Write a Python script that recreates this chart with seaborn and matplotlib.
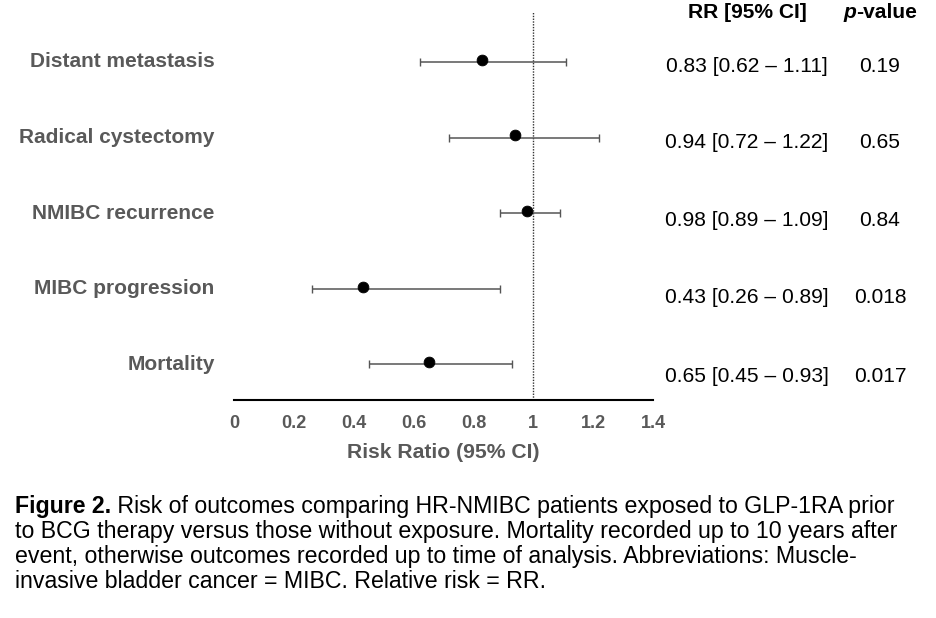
import matplotlib
matplotlib.use("Agg")
import matplotlib.pyplot as plt
import seaborn as sns
import pandas as pd

# === Data ===
outcomes = ["Distant metastasis", "Radical cystectomy", "NMIBC recurrence",
            "MIBC progression", "Mortality"]
rr = [0.83, 0.94, 0.98, 0.43, 0.65]
ci_low = [0.62, 0.72, 0.89, 0.26, 0.45]
ci_high = [1.11, 1.22, 1.09, 0.89, 0.93]
p_values = ["0.19", "0.65", "0.84", "0.018", "0.017"]
x_ticks = [0, 0.2, 0.4, 0.6, 0.8, 1, 1.2, 1.4]

caption_bold = "Figure 2."
caption_rest = (" Risk of outcomes comparing HR-NMIBC patients exposed to GLP-1RA prior\n"
                "to BCG therapy versus those without exposure. Mortality recorded up to 10 years after\n"
                "event, otherwise outcomes recorded up to time of analysis. Abbreviations: Muscle-\n"
                "invasive bladder cancer = MIBC. Relative risk = RR.")

df = pd.DataFrame({"outcome": outcomes, "rr": rr, "lo": ci_low, "hi": ci_high, "p": p_values})
df["row"] = range(len(df))

# === Style ===
sns.set_style("white")
plt.rcParams["font.family"] = ["Liberation Sans", "DejaVu Sans"]
GREY = "#595959"

W, H = 936, 618
fig = plt.figure(figsize=(W / 100, H / 100), dpi=100)
ax = fig.add_axes([234 / W, 1 - 400 / H, (653 - 234) / W, (400 - 10) / H])

# CI whiskers
ax.errorbar(df["rr"], df["row"] + 0.03,
            xerr=[df["rr"] - df["lo"], df["hi"] - df["rr"]],
            fmt="none", ecolor="#555555", elinewidth=1.1, capsize=3, capthick=1.0, zorder=2)
# point estimates
sns.scatterplot(data=df, x="rr", y="row", color="black", s=60, edgecolor="black",
                zorder=3, ax=ax, legend=False)

ax.axvline(1, ymax=0.995, color="#333333", linestyle=(0, (1, 1)), linewidth=1.0, zorder=1)

ax.set_xlim(0, 1.4)
ax.set_ylim(4.5, -0.66)
ax.set_xticks(x_ticks)
ax.set_xticklabels([f"{t:g}" for t in x_ticks], fontsize=13, fontweight="bold", color=GREY)
ax.tick_params(axis="x", length=0, pad=11)
ax.set_yticks(df["row"])
ax.set_yticklabels(outcomes, fontsize=15, fontweight="bold", color=GREY)
ax.tick_params(axis="y", length=0, pad=14)
ax.set_xlabel("Risk Ratio (95% CI)", fontsize=15.2, fontweight="bold", color=GREY, labelpad=8)
ax.set_ylabel("")
for side in ["top", "right", "left"]:
    ax.spines[side].set_visible(False)
ax.spines["bottom"].set_color("black")
ax.spines["bottom"].set_linewidth(1.5)

# === Right-hand table ===
FS = 15.1
fig.text(747 / W, 1 - 13 / H, "RR [95% CI]", ha="center", va="center",
         fontsize=FS, fontweight="bold", color="black")
fig.text(856 / W, 1 - 13 / H, "p", ha="right", va="center",
         fontsize=FS, fontweight="bold", style="italic", color="black")
fig.text(856 / W, 1 - 13 / H, "-value", ha="left", va="center",
         fontsize=FS, fontweight="bold", color="black")

text_y_px = [66, 142, 220, 298, 376]
for ypx, r, lo, hi, p in zip(text_y_px, rr, ci_low, ci_high, p_values):
    fig.text(747 / W, 1 - ypx / H, f"{r:.2f} [{lo:.2f} \u2013 {hi:.2f}]",
             ha="center", va="center", fontsize=FS, color="black")
    fig.text(880 / W, 1 - ypx / H, p, ha="center", va="center", fontsize=FS, color="black")

# === Caption ===
CFS = 16.7
base0 = 513
cap = fig.text(15 / W, 1 - base0 / H, caption_bold, ha="left", va="baseline",
               fontsize=CFS, fontweight="bold", color="black")
fig.canvas.draw()
bb = cap.get_window_extent()
lines = caption_rest.split("\n")
fig.text(bb.x1 / W, 1 - base0 / H, lines[0], ha="left", va="baseline", fontsize=CFS, color="black")
for i, line in enumerate(lines[1:], start=1):
    fig.text(15 / W, 1 - (base0 + 25 * i) / H, line, ha="left", va="baseline",
             fontsize=CFS, color="black")

fig.savefig("out.png", dpi=100)
